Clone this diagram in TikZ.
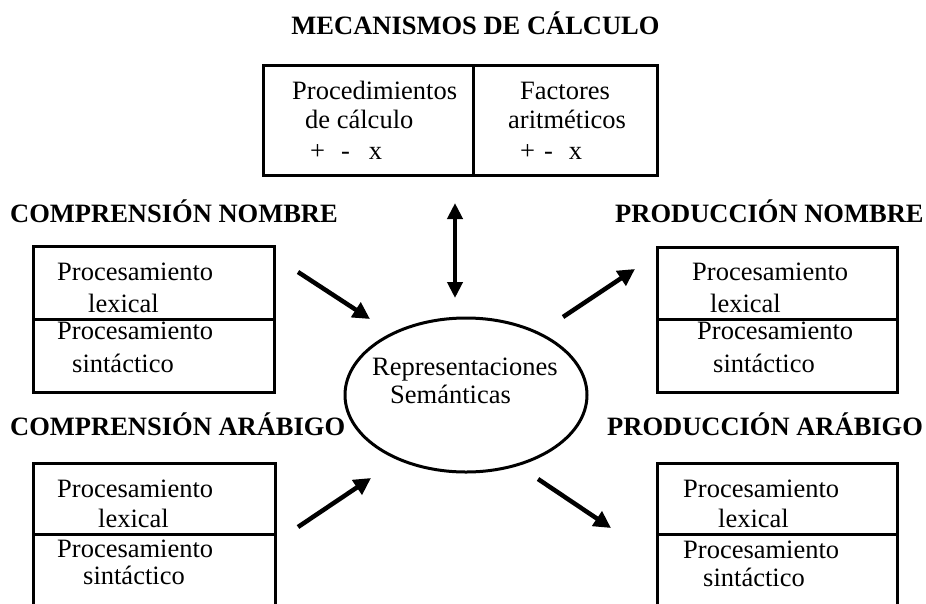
\documentclass[tikz,border=0pt]{standalone}
\usepackage{fontspec}
\setmainfont{Liberation Serif}
\usetikzlibrary{arrows.meta,shapes.geometric}
\tikzset{
  boxpart/.style={draw, line width=3pt, rectangle, inner sep=0pt},
  txt/.style={font=\fontsize{26.5}{30}\selectfont, inner sep=0pt, anchor=base west},
  hdr/.style={font=\fontsize{26.5}{30}\selectfont\bfseries, inner sep=0pt, anchor=base west},
  bigarrow/.style={line width=4.5pt, -{Triangle[length=17pt,width=17pt]}},
  dblarrow/.style={line width=4pt, {Triangle[length=16pt,width=15pt]}-{Triangle[length=16pt,width=15pt]}}
}
\begin{document}
\begin{tikzpicture}[x=1pt,y=-1pt]
\useasboundingbox (0,0) rectangle (926,603);
\clip (0,0) rectangle (926,603);
\fill[white] (0,0) rectangle (926,603);

% title
\node[font=\fontsize{26.5}{30}\selectfont\bfseries, inner sep=0pt, anchor=base] (title) at (475.5,34) {MECANISMOS DE CÁLCULO};

% top box
\node[boxpart, minimum width=210pt, minimum height=110pt] (calcL) at (368,120) {};
\node[boxpart, minimum width=184pt, minimum height=110pt] (calcR) at (565,120) {};
\node[txt] (t1) at (292,99) {Procedimientos};
\node[txt] (t2) at (305,128) {de cálculo};
\node[txt] (t3) at (310,159) {+\hspace{16pt}-\hspace{19pt}x};
\node[txt] (t4) at (520,99) {Factores};
\node[txt] (t5) at (508,128) {aritméticos};
\node[txt] (t6) at (520,159) {+\hspace{9pt}-\hspace{16pt}x};

% headers
\node[hdr] (hCN) at (10,222) {COMPRENSIÓN NOMBRE};
\node[hdr] (hPN) at (615,222) {PRODUCCIÓN NOMBRE};
\node[hdr] (hCA) at (10,435) {COMPRENSIÓN ARÁBIGO};
\node[hdr] (hPA) at (607,435) {PRODUCCIÓN ARÁBIGO};

% CN box
\node[boxpart, minimum width=241pt, minimum height=73pt] (cnU) at (153.5,282.5) {};
\node[boxpart, minimum width=241pt, minimum height=73pt] (cnL) at (153.5,355.5) {};
\node[txt] (cn1) at (57,280) {Procesamiento};
\node[txt] (cn2) at (88,312) {lexical};
\node[txt] (cn3) at (57,339) {Procesamiento};
\node[txt] (cn4) at (72,372) {sintáctico};

% PN box
\node[boxpart, minimum width=240pt, minimum height=72pt] (pnU) at (777,283) {};
\node[boxpart, minimum width=240pt, minimum height=73pt] (pnL) at (777,355.5) {};
\node[txt] (pn1) at (692,280) {Procesamiento};
\node[txt] (pn2) at (710,312) {lexical};
\node[txt] (pn3) at (697,339) {Procesamiento};
\node[txt] (pn4) at (713,372) {sintáctico};

% CA box
\node[boxpart, minimum width=242pt, minimum height=71pt] (caU) at (154,498.5) {};
\node[boxpart, minimum width=242pt, minimum height=106pt] (caL) at (154,587) {};
\node[txt] (ca1) at (57,497) {Procesamiento};
\node[txt] (ca2) at (98,527) {lexical};
\node[txt] (ca3) at (57,557) {Procesamiento};
\node[txt] (ca4) at (83,584) {sintáctico};

% PA box
\node[boxpart, minimum width=240pt, minimum height=71pt] (paU) at (777,498.5) {};
\node[boxpart, minimum width=240pt, minimum height=106pt] (paL) at (777,587) {};
\node[txt] (pa1) at (683,497) {Procesamiento};
\node[txt] (pa2) at (718,527) {lexical};
\node[txt] (pa3) at (683,558) {Procesamiento};
\node[txt] (pa4) at (703,586) {sintáctico};

% ellipse
\node[draw, ellipse, line width=3pt, minimum width=242pt, minimum height=154pt, inner sep=0pt] (sem) at (466,395) {};
\node[txt] (s1) at (372,375) {Representaciones};
\node[txt] (s2) at (390,403) {Semánticas};

% arrow end points
\coordinate (vA) at (455,203);
\coordinate (vB) at (455,298);
\coordinate (cnS) at (298,272);
\coordinate (cnE) at (370,319);
\coordinate (pnS) at (563,317);
\coordinate (pnE) at (635,269);
\coordinate (caS) at (298,527);
\coordinate (caE) at (371,478);
\coordinate (paS) at (538,479);
\coordinate (paE) at (611,528);

\draw[dblarrow] (vA) -- (vB);
\draw[bigarrow] (cnS) -- (cnE);
\draw[bigarrow] (pnS) -- (pnE);
\draw[bigarrow] (caS) -- (caE);
\draw[bigarrow] (paS) -- (paE);
\end{tikzpicture}
\end{document}
